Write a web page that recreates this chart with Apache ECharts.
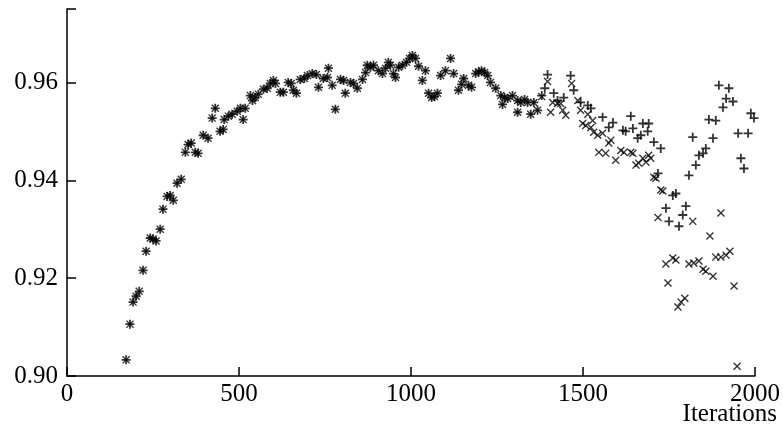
<!DOCTYPE html>
<html>
<head>
<meta charset="utf-8">
<script src="https://cdn.jsdelivr.net/npm/echarts@6/dist/echarts.min.js"></script>
<style>
  html, body { margin: 0; padding: 0; background: #fff; }
  #chart { width: 783px; height: 433px; }
</style>
</head>
<body>
<div id="chart"></div>
<script>
// points where both runs coincide (drawn as + and x on top of each other)
const sharedPts = [
  [172, 0.9033], [183, 0.9106], [192, 0.9151], [201, 0.9163], [210, 0.9173],
  [221, 0.9216], [230, 0.9255], [242, 0.9282], [250, 0.9280], [259, 0.9276],
  [271, 0.9300], [279, 0.9341], [291, 0.9367], [300, 0.9369], [309, 0.9359],
  [320, 0.9394], [332, 0.9402], [344, 0.9457], [352, 0.9473], [361, 0.9476],
  [373, 0.9457], [381, 0.9455], [396, 0.9492], [410, 0.9486], [422, 0.9527],
  [431, 0.9547], [445, 0.9500], [454, 0.9504], [457, 0.9524], [469, 0.9531],
  [480, 0.9535], [495, 0.9541], [504, 0.9547], [512, 0.9524], [518, 0.9547],
  [533, 0.9573], [539, 0.9563], [547, 0.9569], [556, 0.9576], [571, 0.9586],
  [582, 0.9588], [591, 0.9598], [600, 0.9604], [606, 0.9598], [620, 0.9580],
  [629, 0.9580], [643, 0.9600], [652, 0.9598], [658, 0.9584], [667, 0.9578],
  [678, 0.9606], [690, 0.9608], [699, 0.9614], [713, 0.9618], [725, 0.9616],
  [731, 0.9590], [745, 0.9608], [757, 0.9610], [760, 0.9629], [771, 0.9594],
  [780, 0.9545], [795, 0.9606], [804, 0.9604], [809, 0.9578], [824, 0.9600],
  [833, 0.9598], [844, 0.9588], [859, 0.9606], [868, 0.9620], [873, 0.9635],
  [882, 0.9631], [891, 0.9635], [905, 0.9624], [917, 0.9618], [926, 0.9629],
  [934, 0.9641], [940, 0.9635], [949, 0.9618], [955, 0.9610], [964, 0.9631],
  [975, 0.9635], [987, 0.9641], [996, 0.9649], [1004, 0.9655], [1013, 0.9649],
  [1022, 0.9633], [1033, 0.9604], [1042, 0.9624], [1051, 0.9578], [1060, 0.9569],
  [1068, 0.9571], [1077, 0.9578], [1086, 0.9614], [1100, 0.9624], [1115, 0.9649],
  [1124, 0.9618], [1138, 0.9584], [1147, 0.9596], [1153, 0.9608], [1167, 0.9594],
  [1176, 0.9590], [1188, 0.9618], [1197, 0.9622], [1205, 0.9624], [1214, 0.9620],
  [1223, 0.9614], [1231, 0.9600], [1246, 0.9588], [1261, 0.9573], [1266, 0.9555],
  [1272, 0.9569], [1281, 0.9567], [1295, 0.9573], [1310, 0.9563], [1319, 0.9559],
  [1310, 0.9539], [1330, 0.9565], [1339, 0.9559], [1348, 0.9535], [1357, 0.9559],
  [1368, 0.9543]
];

// '+' run after the two diverge
const plusPts = [
  [1380, 0.9573], [1389, 0.9588], [1397, 0.9616], [1415, 0.9578], [1426, 0.9563],
  [1444, 0.9569], [1464, 0.9614], [1473, 0.9584], [1493, 0.9559], [1514, 0.9553],
  [1523, 0.9547], [1557, 0.9529], [1575, 0.9508], [1587, 0.9518], [1616, 0.9502],
  [1624, 0.9500], [1639, 0.9531], [1645, 0.9506], [1659, 0.9486], [1668, 0.9492],
  [1674, 0.9516], [1688, 0.9500], [1691, 0.9516], [1706, 0.9478], [1726, 0.9465],
  [1718, 0.9414], [1741, 0.9343], [1750, 0.9316], [1761, 0.9369], [1770, 0.9373],
  [1779, 0.9306], [1790, 0.9329], [1799, 0.9347], [1808, 0.9410], [1819, 0.9488],
  [1828, 0.9431], [1837, 0.9451], [1849, 0.9455], [1857, 0.9465], [1866, 0.9524],
  [1878, 0.9486], [1886, 0.9522], [1895, 0.9594], [1907, 0.9549], [1916, 0.9567],
  [1924, 0.9588], [1936, 0.9561], [1951, 0.9496], [1959, 0.9445], [1968, 0.9424],
  [1980, 0.9496], [1988, 0.9537], [1997, 0.9527]
];

// 'x' run after the two diverge
const crossPts = [
  [1380, 0.9571], [1397, 0.9602], [1406, 0.9539], [1412, 0.9559], [1426, 0.9557],
  [1435, 0.9557], [1441, 0.9543], [1450, 0.9533], [1467, 0.9598], [1485, 0.9563],
  [1493, 0.9543], [1499, 0.9516], [1508, 0.9512], [1514, 0.9535], [1523, 0.9508],
  [1528, 0.9522], [1531, 0.9498], [1543, 0.9492], [1546, 0.9457], [1557, 0.9496],
  [1566, 0.9455], [1575, 0.9476], [1581, 0.9482], [1595, 0.9441], [1610, 0.9461],
  [1619, 0.9457], [1639, 0.9457], [1645, 0.9455], [1654, 0.9431], [1662, 0.9435],
  [1674, 0.9445], [1683, 0.9437], [1691, 0.9451], [1697, 0.9445], [1706, 0.9406],
  [1712, 0.9404], [1726, 0.9380], [1732, 0.9378], [1718, 0.9324], [1819, 0.9316],
  [1869, 0.9286], [1901, 0.9333], [1741, 0.9229], [1761, 0.9241], [1770, 0.9237],
  [1747, 0.9190], [1808, 0.9229], [1822, 0.9231], [1837, 0.9235], [1849, 0.9218],
  [1857, 0.9214], [1878, 0.9204], [1886, 0.9243], [1901, 0.9243], [1916, 0.9247],
  [1927, 0.9255], [1939, 0.9184], [1776, 0.9141], [1785, 0.9151], [1796, 0.9159],
  [1948, 0.9020]
];

const xTicks = [0, 500, 1000, 1500, 2000];
const yTicks = [0.90, 0.92, 0.94, 0.96];

const plusSymbol = 'path://M4,0H6V4H10V6H6V10H4V6H0V4H4Z';
const crossSymbol = 'path://M0,1.2L1.2,0L5,3.8L8.8,0L10,1.2L6.2,5L10,8.8L8.8,10L5,6.2L1.2,10L0,8.8L3.8,5Z';

const font = '"Liberation Serif", "DejaVu Serif", serif';

const option = {
  animation: false,
  grid: { left: 67, right: 28, top: 9, bottom: 57 },
  xAxis: {
    type: 'value',
    min: xTicks[0],
    max: xTicks[xTicks.length - 1],
    interval: 500,
    axisLine: { lineStyle: { color: '#000', width: 1.5 } },
    axisTick: { inside: true, length: 9, lineStyle: { color: '#000', width: 1.5 } },
    axisLabel: {
      color: '#000', fontFamily: font, fontSize: 25, margin: 6,
      formatter: v => String(v)
    },
    splitLine: { show: false }
  },
  yAxis: {
    type: 'value',
    min: yTicks[0],
    max: 0.975,
    interval: 0.02,
    axisLine: { show: true, lineStyle: { color: '#000', width: 1.5 } },
    axisTick: { show: true, inside: true, length: 9, lineStyle: { color: '#000', width: 1.5 } },
    axisLabel: {
      color: '#000', fontFamily: font, fontSize: 25, margin: 9,
      formatter: v => (v > 0.97 ? '' : v.toFixed(2))
    },
    splitLine: { show: false }
  },
  graphic: [{
    type: 'text',
    right: 6,
    top: 402,
    style: { text: 'Iterations', fill: '#000', font: '25px ' + font }
  }],
  series: [
    {
      name: 'plus',
      type: 'scatter',
      symbol: plusSymbol,
      symbolSize: 9,
      itemStyle: { color: '#000' },
      data: sharedPts.concat(plusPts)
    },
    {
      name: 'cross',
      type: 'scatter',
      symbol: crossSymbol,
      symbolSize: 8,
      itemStyle: { color: '#000' },
      data: sharedPts.concat(crossPts)
    }
  ]
};

const chart = echarts.init(document.getElementById('chart'));
chart.setOption(option);
</script>
</body>
</html>
